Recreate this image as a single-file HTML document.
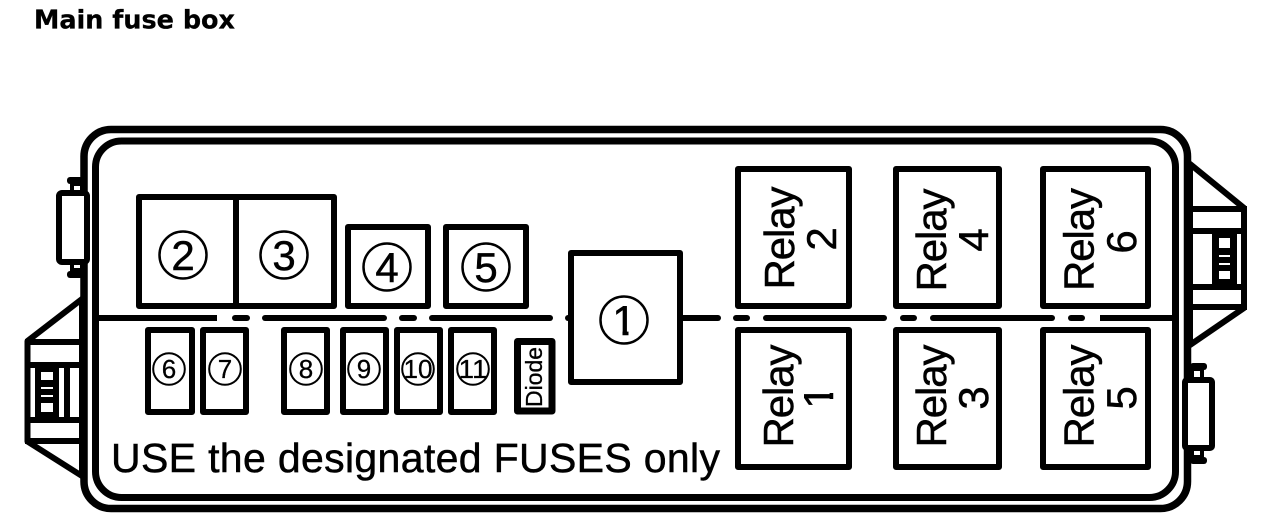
<!DOCTYPE html>
<html><head><meta charset="utf-8"><style>
html,body{margin:0;padding:0;background:#fff;width:1280px;height:532px;overflow:hidden}
svg{display:block}
text{font-family:"Liberation Sans",Arial,sans-serif;fill:#000;stroke:#000;stroke-width:.5}
.b{fill:#fff;stroke:#000;stroke-width:6;stroke-linejoin:round}
.c{fill:none;stroke:#000;stroke-width:2.500}
.cs{fill:none;stroke:#000;stroke-width:2}
.n{font-size:42px;text-anchor:middle}
.s{font-size:26px;text-anchor:middle;stroke-width:.3}
.r{font-size:42px;text-anchor:middle}
</style></head><body>
<svg width="1280" height="532" viewBox="0 0 1280 532" xmlns="http://www.w3.org/2000/svg">
<rect width="1280" height="532" fill="#fff"/>
<text x="34" y="28.500" style="font-family:'DejaVu Sans',sans-serif;font-weight:bold;font-size:25.500px;stroke-width:.3" textLength="201" lengthAdjust="spacingAndGlyphs">Main fuse box</text>

<!-- left wedge -->
<polygon points="82,299 27.500,341 27.500,441.500 82,476" fill="#fff" stroke="#000" stroke-width="6" stroke-linejoin="round"/>
<g fill="#000">
<rect x="25" y="339" width="57" height="6"/>
<rect x="25" y="362" width="57" height="6"/>
<rect x="25" y="417" width="57" height="6"/>
<rect x="25" y="438" width="57" height="6"/>
<rect x="35" y="368" width="24" height="49"/>
<rect x="64" y="368" width="6" height="49"/>
</g>
<g fill="#fff">
<rect x="41" y="372" width="12" height="8"/>
<rect x="41" y="387" width="12" height="2"/>
<rect x="41" y="395" width="12" height="2"/>
<rect x="41" y="403" width="12" height="9"/>
</g>

<!-- right wedge -->
<polygon points="1190,164 1244,208 1244,308 1190,345" fill="#fff" stroke="#000" stroke-width="6" stroke-linejoin="round"/>
<g fill="#000">
<rect x="1190" y="206" width="57" height="6"/>
<rect x="1190" y="228" width="57" height="6"/>
<rect x="1190" y="284" width="57" height="6"/>
<rect x="1190" y="304" width="57" height="6"/>
<rect x="1212" y="234" width="25" height="50"/>
</g>
<g fill="#fff">
<rect x="1219" y="238" width="11" height="10"/>
<rect x="1219" y="255" width="11" height="2"/>
<rect x="1219" y="263" width="11" height="2"/>
<rect x="1219" y="271" width="11" height="8"/>
</g>

<!-- housing -->
<rect x="84" y="129.500" width="1103.500" height="379" rx="27" fill="#fff" stroke="#000" stroke-width="7.500"/>
<rect x="95.500" y="141" width="1080" height="356.500" rx="26" fill="#fff" stroke="#000" stroke-width="7"/>

<!-- left clip -->
<g fill="#000">
<rect x="67" y="177" width="16" height="7" rx="3"/>
<rect x="70" y="183" width="14" height="8"/>
<rect x="67" y="271" width="16" height="7" rx="3"/>
<rect x="70" y="264" width="14" height="8"/>
</g>
<rect x="59" y="193" width="28" height="69" rx="3" fill="#fff" stroke="#000" stroke-width="6"/>
<g fill="#fff">
<rect x="74" y="186" width="6" height="4"/>
<rect x="74" y="265" width="6" height="3"/>
</g>
<!-- right clip -->
<g fill="#000">
<rect x="1190" y="363" width="17" height="7" rx="3"/>
<rect x="1190" y="369" width="14" height="9"/>
<rect x="1190" y="457" width="17" height="7" rx="3"/>
<rect x="1190" y="449" width="14" height="9"/>
</g>
<rect x="1185" y="380" width="27" height="68" rx="2" fill="#fff" stroke="#000" stroke-width="6"/>
<g fill="#fff">
<rect x="1194" y="371" width="6" height="6"/>
<rect x="1194" y="451" width="6" height="4"/>
</g>

<!-- divider -->
<g stroke="#000" stroke-width="6" stroke-linecap="round">
<line x1="99" y1="318" x2="217" y2="318" stroke-linecap="butt"/>
<line x1="235" y1="318" x2="247" y2="318"/>
<line x1="265" y1="318" x2="384" y2="318"/>
<line x1="402" y1="318" x2="414" y2="318"/>
<line x1="432" y1="318" x2="550" y2="318"/>
<line x1="568" y1="318" x2="570" y2="318"/>
<line x1="680" y1="318" x2="718" y2="318"/>
<line x1="736" y1="318" x2="747" y2="318"/>
<line x1="766" y1="318" x2="884" y2="318"/>
<line x1="903" y1="318" x2="914" y2="318"/>
<line x1="933" y1="318" x2="1052" y2="318"/>
<line x1="1071" y1="318" x2="1082" y2="318"/>
<line x1="1100" y1="318" x2="1172" y2="318" stroke-linecap="butt"/>
</g>

<!-- upper fuses -->
<rect class="b" x="139" y="197" width="195" height="109"/>
<line x1="236" y1="197" x2="236" y2="306" stroke="#000" stroke-width="6"/>
<rect class="b" x="348" y="227" width="80" height="79"/>
<rect class="b" x="446" y="227" width="80" height="79"/>
<rect class="b" x="571" y="253" width="109" height="129"/>

<circle class="c" cx="183" cy="255" r="23.500"/><text class="n" x="183" y="270">2</text>
<circle class="c" cx="284" cy="255" r="23.500"/><text class="n" x="284" y="270">3</text>
<circle class="c" cx="387" cy="267" r="23.500"/><text class="n" x="387" y="282">4</text>
<circle class="c" cx="486" cy="267" r="23.500"/><text class="n" x="486" y="282">5</text>
<text class="n" x="624" y="335">1</text>
<rect x="612" y="331" width="10.500" height="6" fill="#fff"/>
<rect x="628.500" y="331" width="7.500" height="6" fill="#fff"/>
<circle class="c" cx="624" cy="320" r="23.500"/>

<!-- small fuses -->
<rect class="b" x="148" y="330" width="44" height="82"/>
<rect class="b" x="203" y="330" width="43" height="82"/>
<rect class="b" x="284" y="330" width="43" height="82"/>
<rect class="b" x="343" y="330" width="43" height="82"/>
<rect class="b" x="397" y="330" width="43" height="82"/>
<rect class="b" x="451" y="330" width="43" height="82"/>
<rect x="517.500" y="341.500" width="34.500" height="69.500" fill="#fff" stroke="#000" stroke-width="7" stroke-linejoin="round"/>

<circle class="cs" cx="169" cy="369" r="15.800"/><text class="s" x="169" y="378">6</text>
<circle class="cs" cx="225" cy="369" r="15.800"/><text class="s" x="225" y="378">7</text>
<circle class="cs" cx="306" cy="369" r="15.800"/><text class="s" x="306" y="378">8</text>
<circle class="cs" cx="364" cy="369" r="15.800"/><text class="s" x="364" y="378">9</text>
<circle class="cs" cx="418" cy="369" r="15.800"/><text class="s" x="418" y="378" textLength="29" lengthAdjust="spacingAndGlyphs">10</text>
<circle class="cs" cx="473" cy="369" r="15.800"/><text class="s" x="473" y="378" textLength="29" lengthAdjust="spacingAndGlyphs">11</text>
<text x="0" y="0" transform="translate(542,377) rotate(-90)" text-anchor="middle" style="font-size:23px;stroke-width:.3">Diode</text>

<!-- relays -->
<rect class="b" x="738" y="169" width="111" height="137"/>
<rect class="b" x="896" y="169" width="103" height="137"/>
<rect class="b" x="1043" y="169" width="105" height="137"/>
<rect class="b" x="738" y="330" width="111" height="137"/>
<rect class="b" x="896" y="330" width="103" height="137"/>
<rect class="b" x="1043" y="330" width="105" height="137"/>

<text class="r" transform="translate(794,238) rotate(-90)" textLength="103" lengthAdjust="spacing">Relay</text>
<text class="r" transform="translate(836,239) rotate(-90)">2</text>
<text class="r" transform="translate(946,240) rotate(-90)" textLength="103" lengthAdjust="spacing">Relay</text>
<text class="r" transform="translate(988,240) rotate(-90)">4</text>
<text class="r" transform="translate(1093.500,239.500) rotate(-90)" textLength="103" lengthAdjust="spacing">Relay</text>
<text class="r" transform="translate(1136,242) rotate(-90)">6</text>
<text class="r" transform="translate(793,396) rotate(-90)" textLength="103" lengthAdjust="spacing">Relay</text>
<text class="r" transform="translate(833,397) rotate(-90)">1</text>
<rect x="829" y="386" width="6" height="7" fill="#fff"/>
<rect x="829" y="399" width="6" height="8" fill="#fff"/>
<text class="r" transform="translate(946,396) rotate(-90)" textLength="103" lengthAdjust="spacing">Relay</text>
<text class="r" transform="translate(988,398) rotate(-90)">3</text>
<text class="r" transform="translate(1093.500,396) rotate(-90)" textLength="103" lengthAdjust="spacing">Relay</text>
<text class="r" transform="translate(1136,398) rotate(-90)">5</text>

<text x="111" y="472" style="font-size:41px" textLength="609" lengthAdjust="spacing">USE the designated FUSES only</text>
</svg>
</body></html>
